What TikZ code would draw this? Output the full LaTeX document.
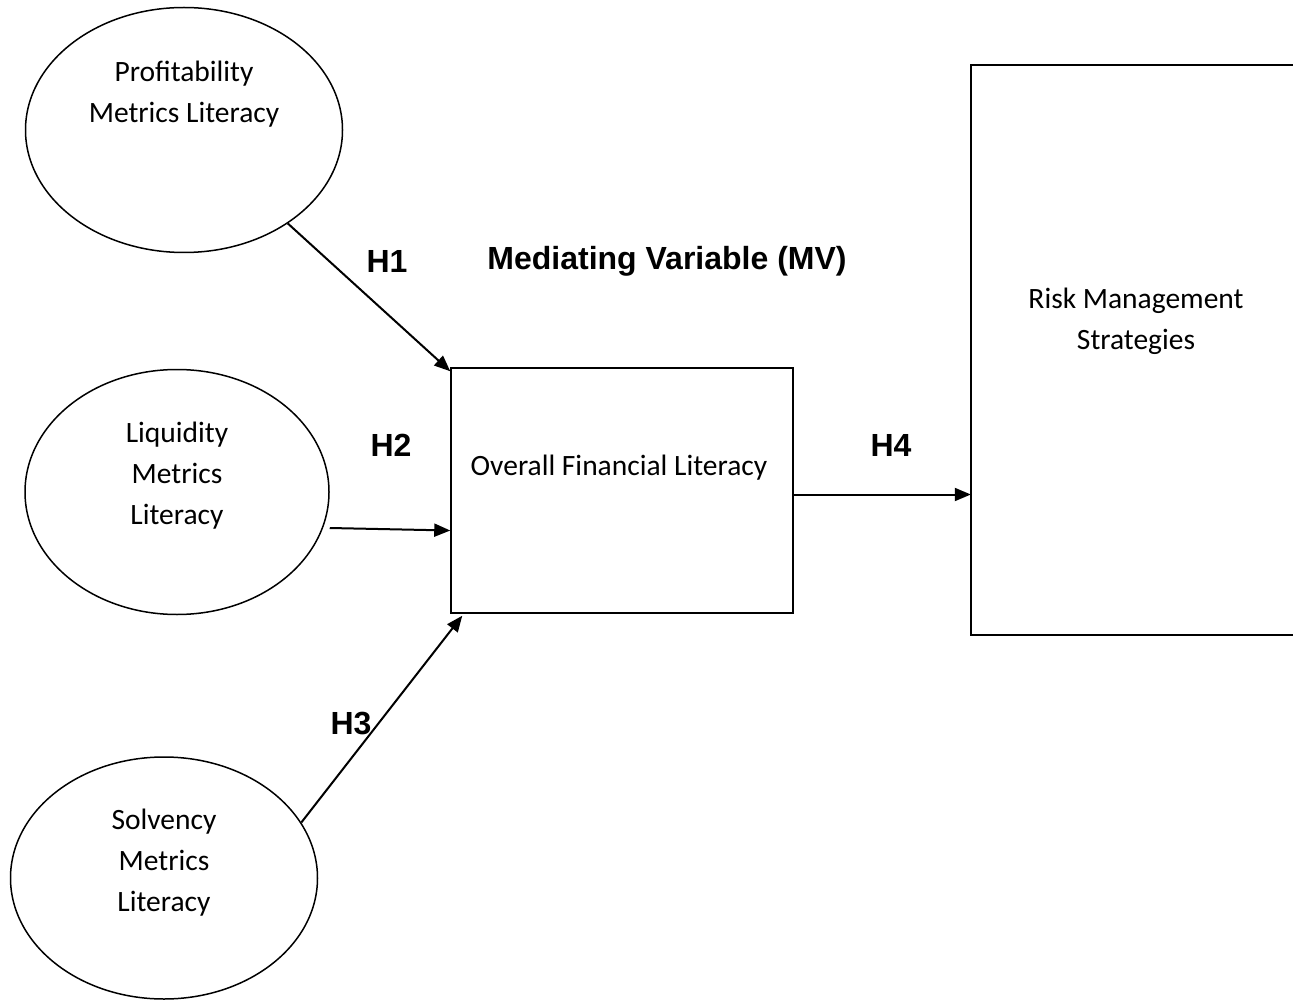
\documentclass[tikz,border=0pt]{standalone}
\usepackage{fontspec}
\setmainfont{Carlito}
\newfontfamily\hfont{Liberation Sans}
\usetikzlibrary{shapes.geometric,arrows.meta}
\tikzset{
  ell/.style={draw, ellipse, line width=1.5pt, inner sep=0pt},
  boxx/.style={draw, rectangle, line width=1.5pt, inner sep=0pt},
  txt/.style={align=center, font=\fontsize{29.5}{41}\selectfont, inner sep=0pt},
  hlab/.style={font=\hfont\bfseries\fontsize{32}{38}\selectfont, inner sep=0pt},
  arr/.style={line width=2pt, -{Triangle[length=16pt,width=13pt]}}
}
\begin{document}
\begin{tikzpicture}[x=1pt,y=-1pt]
\useasboundingbox (0,0) rectangle (1293,1000);
% ellipses
\node[ell, minimum width=317, minimum height=245] (p) at (184,130) {};
\node[txt] (pt) at (184,94) {Profitability\\Metrics Literacy};
\node[ell, minimum width=304, minimum height=245] (l) at (177,492) {};
\node[txt] (lt) at (177,476) {Liquidity\\Metrics\\Literacy};
\node[ell, minimum width=307, minimum height=242] (s) at (164,878) {};
\node[txt] (st) at (164,863) {Solvency\\Metrics\\Literacy};
% boxes
\node[boxx, minimum width=342, minimum height=245] (m) at (622,490.5) {};
\node[txt] (mt) at (619,468) {Overall Financial Literacy};
\path[draw, line width=1.5pt] (1300,65) -- (971,65) -- (971,635) -- (1300,635);
\node[minimum width=329, minimum height=570, inner sep=0pt] (r) at (1135.5,350) {};
\node[txt] (rt) at (1136,321) {Risk Management\\Strategies};
% labels
\node[hlab] (h1) at (387,261) {H1};
\node[hlab] (h2) at (391,445) {H2};
\node[hlab] (h3) at (351,724) {H3};
\node[hlab] (h4) at (891,445) {H4};
\node[hlab] (mv) at (667,261) {Mediating Variable (MV)};
% connectors
\draw[arr] (p.-42) -- ([yshift=-4pt]m.north west);
\draw[arr] ([yshift=-36pt]l.east) -- ([yshift=-40pt]m.west);
\draw[arr] (s.22) -- ([xshift=12pt,yshift=-2pt]m.south west);
\draw[arr] ([yshift=-4pt]m.east) -- ([yshift=-4pt]m.east -| r.west);
\end{tikzpicture}
\end{document}
